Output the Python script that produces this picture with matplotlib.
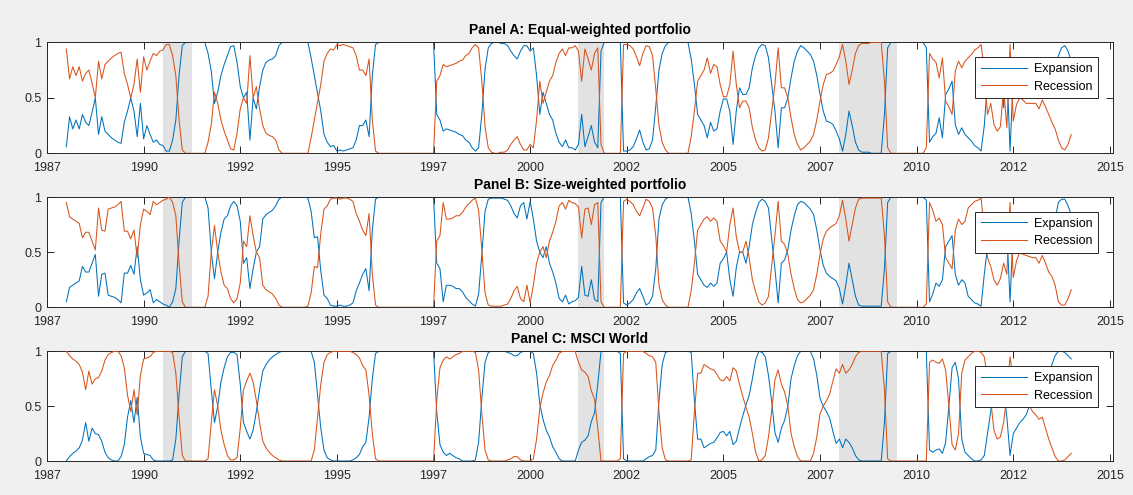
import numpy as np
import matplotlib
matplotlib.use('Agg')
import matplotlib.pyplot as plt

plt.rcParams['font.family'] = ['Liberation Sans', 'DejaVu Sans']

# monthly data start (Jan 1988)
start_year = 1988.0

# Expansion-regime probabilities (recession = 1 - expansion)
exp_a = [
    .06, .33, .22, .30, .22, .35, .28, .25, .37, .50,
    .17, .33, .20, .17, .14, .12, .10, .09, .28, .38,
    .50, .38, .15, .45, .13, .25, .17, .10, .12, .08,
    .07, .02, .02, .12, .30, .70, .97, 1, 1, 1,
    1, 1, 1, 1, .90, .74, .45, .55, .70, .80,
    .88, .96, .97, .82, .60, .50, .55, .12, .50, .40,
    .60, .75, .82, .84, .85, .88, .97, 1, 1, 1,
    1, 1, 1, 1, 1, 1, .86, .70, .54, .38,
    .17, .10, .06, .07, .02, .03, .02, .03, .04, .05,
    .12, .25, .25, .30, .15, .70, .98, 1, 1, 1,
    1, 1, 1, 1, 1, 1, 1, 1, 1, 1,
    1, 1, 1, 1, 1, .35, .30, .20, .22, .21,
    .20, .19, .17, .16, .12, .10, .05, .02, .05, .35,
    .76, .95, .99, 1, 1, .99, .99, .97, .92, .88,
    .85, .92, .97, .97, .92, .95, .70, .35, .55, .45,
    .35, .30, .18, .10, .06, .12, .05, .05, .03, .08,
    .35, .06, .15, .25, .10, .05, .92, 1, 1, 1,
    1, 1, 1, .02, .02, .03, .06, .13, .21, .10,
    .03, .04, .12, .42, .75, .90, .97, 1, 1, 1,
    1, 1, 1, 1, .85, .62, .35, .30, .25, .14,
    .28, .20, .22, .38, .49, .49, .38, .08, .38, .59,
    .53, .53, .59, .77, .88, .95, .98, .97, .86, .62,
    .38, .05, .41, .41, .50, .68, .83, .92, .97, .95,
    .92, .89, .83, .70, .53, .38, .29, .28, .26, .20,
    .13, .02, .17, .38, .25, .10, .03, .01, .01, .01,
    0, 0, 0, 0, .35, .95, 1, 1, 1, 1,
    1, 1, 1, 1, 1, 1, 1, .95, .10, .15,
    .18, .32, .14, .53, .58, .65, .26, .17, .23, .17,
    .14, .11, .07, .05, .02, .25, .65, .55, .74, .80,
    .76, .41, .77, .02, .71, .56, .50, .52, .55, .55,
    .55, .55, .60, .52, .58, .65, .72, .78, .88, .95,
    .97, .92, .83,
]

exp_b = [
    .05, .18, .20, .22, .24, .37, .32, .32, .40, .48,
    .10, .30, .31, .11, .10, .09, .07, .04, .31, .31,
    .38, .30, .55, .25, .11, .13, .16, .04, .07, .05,
    .03, .02, 0, .05, .17, .60, .95, 1, 1, 1,
    1, 1, 1, 1, .90, .50, .26, .50, .68, .80,
    .83, .92, .96, .92, .78, .40, .45, .17, .35, .50,
    .55, .80, .84, .86, .88, .92, .98, 1, 1, 1,
    1, 1, 1, 1, 1, .99, .87, .63, .64, .33,
    .11, .08, .02, .01, .01, .02, .01, .01, .02, .04,
    .15, .22, .30, .35, .15, .70, .98, 1, 1, 1,
    1, 1, 1, 1, 1, 1, 1, 1, 1, 1,
    1, 1, 1, 1, 1, .40, .35, .05, .20, .20,
    .19, .17, .17, .14, .09, .06, .03, .01, .12, .48,
    .87, .98, .99, .99, .99, .99, .98, .97, .92, .85,
    .81, .92, .95, .80, .96, .80, .60, .50, .45, .55,
    .40, .32, .22, .08, .05, .11, .03, .05, .06, .09,
    .37, .11, .10, .25, .07, .05, .95, 1, 1, 1,
    1, 1, 1, .04, .02, .04, .07, .13, .17, .10,
    .02, .04, .10, .35, .80, .93, .98, 1, 1, 1,
    1, 1, 1, 1, .85, .60, .30, .25, .20, .18,
    .22, .19, .22, .40, .44, .50, .25, .10, .36, .50,
    .50, .40, .55, .75, .86, .95, .98, .96, .90, .62,
    .35, .04, .40, .43, .52, .70, .83, .93, .96, .95,
    .92, .89, .84, .70, .52, .38, .31, .28, .26, .24,
    .17, .03, .20, .40, .25, .10, .02, .01, .01, .01,
    .01, .01, .01, .01, .35, .95, 1, 1, 1, 1,
    1, 1, 1, 1, 1, 1, 1, .97, .05, .12,
    .22, .19, .25, .55, .60, .65, .30, .20, .25, .22,
    .10, .07, .04, .03, .01, .30, .55, .63, .75, .80,
    .74, .60, .70, .05, .73, .58, .50, .52, .53, .54,
    .55, .55, .60, .53, .60, .68, .72, .80, .95, .98,
    .98, .92, .84,
]

exp_c = [
    0, .04, .07, .09, .12, .19, .35, .18, .30, .25,
    .24, .18, .08, .03, .01, 0, 0, .04, .15, .40,
    .55, .35, .58, .22, .07, .06, .05, .01, 0, 0,
    0, 0, 0, .01, .20, .60, .95, 1, 1, 1,
    1, 1, 1, 1, .98, .65, .35, .50, .72, .85,
    .95, .99, .99, .97, .70, .35, .27, .20, .28, .45,
    .65, .82, .88, .92, .95, .97, .99, 1, 1, 1,
    1, 1, 1, 1, 1, 1, 1, .90, .60, .30,
    .10, .03, .01, 0, 0, 0, 0, 0, 0, .01,
    .03, .06, .13, .17, .40, .75, .98, 1, 1, 1,
    1, 1, 1, 1, 1, 1, 1, 1, 1, 1,
    1, 1, 1, 1, 1, .45, .15, .08, .05, .07,
    .05, .03, .02, 0, 0, 0, 0, .01, .17, .57,
    .90, .99, 1, 1, 1, 1, 1, .99, .98, .96,
    .96, .99, 1, 1, 1, .98, .80, .52, .38, .28,
    .22, .13, .08, .02, 0, 0, 0, 0, 0, .10,
    .17, .19, .23, .36, .44, .70, 1, 1, 1, 1,
    1, 1, .98, .02, 0, 0, 0, 0, 0, 0,
    .02, .04, .05, .10, .55, .88, .99, 1, 1, 1,
    1, 1, 1, 1, .99, .55, .20, .20, .12, .14,
    .16, .17, .21, .26, .27, .23, .27, .15, .18, .30,
    .41, .51, .60, .75, .92, 1, .99, .95, .78, .54,
    .26, .17, .30, .37, .50, .75, .87, .96, 1, 1,
    1, 1, .93, .78, .57, .50, .45, .39, .27, .16,
    .20, .12, .20, .17, .12, .05, .01, 0, 0, 0,
    0, 0, 0, 0, .35, .98, 1, 1, 1, 1,
    1, 1, 1, 1, 1, 1, 1, 1, .10, .08,
    .10, .11, .07, .17, .50, .85, .90, .75, .20, .08,
    .05, .02, 0, 0, .01, .05, .25, .45, .72, .80,
    .78, .65, .40, .05, .25, .30, .35, .38, .42, .50,
    .55, .58, .62, .60, .70, .80, .88, .96, 1, 1,
    .99, .96, .93,
]

panel_titles = ['Panel A: Equal-weighted portfolio',
                'Panel B: Size-weighted portfolio',
                'Panel C: MSCI World']
series_names = ['Expansion', 'Recession']
recession_periods = [(1990.5, 1991.25), (2001.25, 2001.9), (2008.0, 2009.5)]
tick_years = [1987.5, 1990, 1992.5, 1995, 1997.5, 2000, 2002.5, 2005,
              2007.5, 2010, 2012.5, 2015]
tick_labels = ['1987', '1990', '1992', '1995', '1997', '2000', '2002',
               '2005', '2007', '2010', '2012', '2015']
y_ticks = [0, 0.5, 1]
y_tick_labels = ['0', '0.5', '1']

W, H = 1133, 495
fig = plt.figure(figsize=(W / 100, H / 100), dpi=100, facecolor='#f0f0f0')

# axes boxes in pixels: (left, top, right, bottom)
boxes = [(47, 42.3, 1113, 153.3), (47, 197, 1113, 307.3), (47, 351.3, 1113, 461)]

blue = '#0072BD'
orange = '#D95319'
axcol = '#262626'

for data, title, (l, t, r, b) in zip([exp_a, exp_b, exp_c], panel_titles, boxes):
    ax = fig.add_axes([l / W, 1 - b / H, (r - l) / W, (b - t) / H])
    ax.set_facecolor('white')
    for s, e in recession_periods:
        ax.axvspan(s, e, color='#e2e2e2', lw=0, zorder=0)
    e_arr = np.array(data, dtype=float)
    x = start_year + np.arange(len(e_arr)) / 12.0
    ax.plot(x, e_arr, color=blue, lw=0.75, label=series_names[0], zorder=2)
    ax.plot(x, 1 - e_arr, color=orange, lw=0.75, label=series_names[1], zorder=3)
    ax.set_xlim(1987.5, 2015.08)
    ax.set_ylim(0, 1)
    ax.set_xticks(tick_years)
    ax.set_xticklabels(tick_labels)
    ax.set_yticks(y_ticks)
    ax.set_yticklabels(y_tick_labels)
    ax.tick_params(direction='in', length=5, width=0.7, top=True, right=True,
                   labelsize=9, colors=axcol, pad=4)
    ax.tick_params(axis='x', pad=6.5)
    for sp in ax.spines.values():
        sp.set_color(axcol)
        sp.set_linewidth(0.7)
    ax.set_title(title, fontsize=10, fontweight='bold', color='black', pad=6)
    leg = ax.legend(loc='upper right', fontsize=9, frameon=True, fancybox=False,
                    edgecolor=axcol, framealpha=1, handlelength=3.7,
                    borderaxespad=1.2, handletextpad=0.55, borderpad=0.45,
                    labelspacing=0.45)
    leg.get_frame().set_linewidth(0.7)

fig.savefig('out.png', dpi=100, facecolor=fig.get_facecolor())
